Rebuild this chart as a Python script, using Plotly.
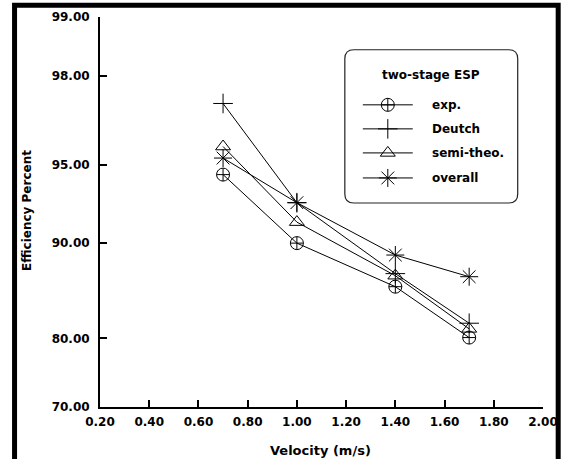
import plotly.graph_objects as go
from statistics import NormalDist

# ---------------- data ----------------
velocity = [0.7, 1.0, 1.4, 1.7]
exp_eff = [94.5, 90.0, 86.0, 80.1]
deutch_eff = [97.3, 92.9, 87.3, 81.9]
semi_eff = [95.8, 91.6, 87.1, 81.2]
overall_eff = [95.3, 92.9, 89.0, 87.0]

series_names = ["exp.", "Deutch", "semi-theo.", "overall"]
y_ticks = [70, 80, 90, 95, 98, 99]
x_ticks = [0.2, 0.4, 0.6, 0.8, 1.0, 1.2, 1.4, 1.6, 1.8, 2.0]
legend_title = "two-stage ESP"
x_title = "Velocity (m/s)"
y_title = "Efficiency Percent"

# ---------------- helpers ----------------
nd = NormalDist()


def probit(p):
    return nd.inv_cdf(p / 100.0)


W, H = 564, 459
L, R, T, B = 100, 20.7, 17.3, 52.3
PW, PH = W - L - R, H - T - B
FONT = "DejaVu Sans"


def px(x):
    return (x - L) / PW


def py(y):
    return (H - B - y) / PH


symbols = ["circle-cross-open", "cross-thin-open", "triangle-up-open", "asterisk-open"]
sizes = [13, 14, 13, 15]
all_series = [exp_eff, deutch_eff, semi_eff, overall_eff]

fig = go.Figure()
for name, vals, sym, sz in zip(series_names, all_series, symbols, sizes):
    fig.add_trace(go.Scatter(
        x=velocity, y=[probit(v) for v in vals], name=name,
        mode="lines+markers", showlegend=False, cliponaxis=False,
        line=dict(color="black", width=1),
        marker=dict(symbol=sym, size=sz, color="black",
                    line=dict(color="black", width=1)),
    ))

# ---------------- legend (drawn in pixel space via overlay axes) ----------------
leg_rows = [105, 129, 153, 178]
for name, sym, sz, yy in zip(series_names, symbols, sizes, leg_rows):
    fig.add_trace(go.Scatter(
        x=[363, 413], y=[yy, yy], xaxis="x2", yaxis="y2", mode="lines",
        showlegend=False, hoverinfo="skip", cliponaxis=False,
        line=dict(color="black", width=1)))
    fig.add_trace(go.Scatter(
        x=[388], y=[yy], xaxis="x2", yaxis="y2", mode="markers",
        showlegend=False, hoverinfo="skip", cliponaxis=False,
        marker=dict(symbol=sym, size=sz, color="black",
                    line=dict(color="black", width=1))))

annotations = []
for name, yy in zip(series_names, leg_rows):
    annotations.append(dict(x=430, y=yy, xref="x2", yref="y2", text=name,
                            showarrow=False, xanchor="left", yanchor="middle",
                            font=dict(family=FONT, size=12, color="black", weight="bold")))
annotations.append(dict(x=431, y=75, xref="x2", yref="y2", text=legend_title,
                        showarrow=False, xanchor="center", yanchor="middle",
                        font=dict(family=FONT, size=12, color="black", weight="bold")))
annotations.append(dict(x=px(321), y=py(450), xref="paper", yref="paper", text=x_title,
                        showarrow=False, xanchor="center", yanchor="middle",
                        font=dict(family=FONT, size=13, color="black", weight="bold")))
annotations.append(dict(x=px(27), y=py(211), xref="paper", yref="paper", text=y_title,
                        showarrow=False, xanchor="center", yanchor="middle", textangle=-90,
                        font=dict(family=FONT, size=12, color="black", weight="bold")))

# rounded legend box path in pixel coords
x0, x1, y0, y1, r = 345, 518, 50, 203, 9
path = (f"M{x0+r},{y0} L{x1-r},{y0} Q{x1},{y0} {x1},{y0+r} L{x1},{y1-r} "
        f"Q{x1},{y1} {x1-r},{y1} L{x0+r},{y1} Q{x0},{y1} {x0},{y1-r} "
        f"L{x0},{y0+r} Q{x0},{y0} {x0+r},{y0} Z")

shapes = [
    dict(type="path", path=path, xref="x2", yref="y2",
         line=dict(color="#222", width=1.2), fillcolor="rgba(0,0,0,0)"),
    dict(type="rect", xref="paper", yref="paper",
         x0=px(14.5), x1=px(558.5), y0=py(5.5), y1=py(475),
         line=dict(color="black", width=5)),
]

tickfont = dict(family=FONT, size=12, color="black", weight="bold")
fig.update_layout(
    width=W, height=H, autosize=False,
    margin=dict(l=L, r=R, t=T, b=B, pad=0, autoexpand=False),
    paper_bgcolor="white", plot_bgcolor="white",
    showlegend=False,
    xaxis=dict(range=[0.2, 2.0], tickvals=x_ticks,
               ticktext=[f"{v:.2f}" for v in x_ticks],
               ticks="inside", ticklen=7, tickwidth=2, tickcolor="black",
               showline=True, linewidth=2, linecolor="black",
               showgrid=False, zeroline=False, tickfont=tickfont,
               ticklabelstandoff=3, fixedrange=True, automargin=False),
    yaxis=dict(range=[probit(70), probit(99)],
               tickvals=[probit(v) for v in y_ticks],
               ticktext=[f"{v:.2f}" for v in y_ticks],
               ticks="inside", ticklen=7, tickwidth=2, tickcolor="black",
               showline=True, linewidth=2, linecolor="black",
               showgrid=False, zeroline=False, tickfont=tickfont,
               ticklabelstandoff=6, fixedrange=True, automargin=False),
    xaxis2=dict(overlaying="x", range=[L, W - R], visible=False, fixedrange=True,
                automargin=False),
    yaxis2=dict(overlaying="y", range=[H - B, T], visible=False, fixedrange=True,
                automargin=False),
    annotations=annotations,
    shapes=shapes,
)

fig.write_html("out.html")
